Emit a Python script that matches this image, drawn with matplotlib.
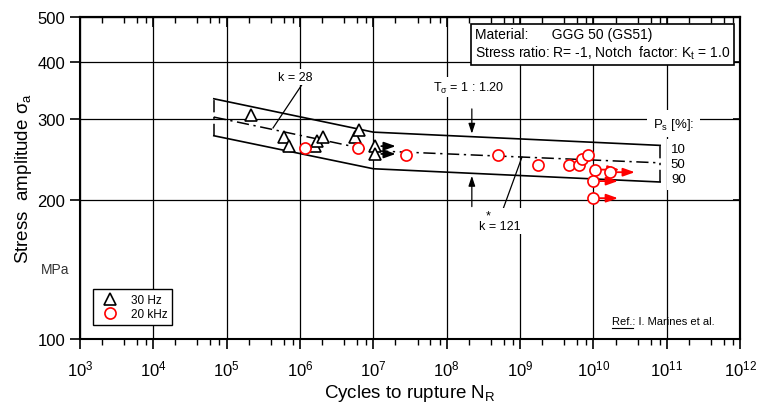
import matplotlib
matplotlib.use("Agg")
import matplotlib.pyplot as plt
import matplotlib.ticker as mticker
import numpy as np

plt.rcParams['font.family'] = ['Liberation Sans', 'DejaVu Sans']
plt.rcParams['mathtext.fontset'] = 'custom'
plt.rcParams['mathtext.rm'] = 'Liberation Sans'
plt.rcParams['mathtext.it'] = 'Liberation Sans:italic'

# scatter band (10 / 50 / 90 %)
band_n = [6.7e4, 1e7, 8.1e10]
band_10 = [332, 281, 263]
band_50 = [303, 256, 241]
band_90 = [276, 234, 219]

# 30 Hz tests
hz30_n = [2.15e5, 6.0e5, 7.1e5, 1.6e6, 1.7e6, 2.05e6, 5.6e6, 6.4e6]
hz30_s = [306, 274, 262, 262, 269, 274, 274, 284]
hz30_runout_n = [1.05e7, 1.05e7]
hz30_runout_s = [262, 252]

# 20 kHz tests
khz20_n = [1.17e6, 6.2e6, 2.8e7, 5.0e8, 1.76e9, 4.7e9, 6.4e9, 7.0e9, 8.5e9]
khz20_s = [259, 259, 251, 251, 238, 238, 238, 246, 251]
khz20_runout_n = [1.05e10, 1.7e10, 1.0e10, 1.0e10]
khz20_runout_s = [233, 230, 220, 202]

ps_labels = ['10', '50', '90']
x_decades = [1e3, 1e4, 1e5, 1e6, 1e7, 1e8, 1e9, 1e10, 1e11, 1e12]
y_ticks = [100, 200, 300, 400, 500]

fig = plt.figure(figsize=(7.6, 4.06), dpi=100)
ax = fig.add_axes([0.105, 0.163, 0.869, 0.793])
ax.set_xscale('log')
ax.set_yscale('log')
ax.set_xlim(1e3, 1e12)
ax.set_ylim(100, 500)

# grid
ax.grid(True, which='major', color='black', lw=0.9, zorder=0)
ax.set_axisbelow(True)

# band
ax.plot(band_n, band_10, color='black', lw=1.2, zorder=2)
ax.plot(band_n, band_90, color='black', lw=1.2, zorder=2)
ax.plot(band_n, band_50, color='black', lw=1.1, ls=(0, (8, 3, 1.5, 3)), zorder=2)
for i in [0, -1]:
    ax.plot([band_n[i], band_n[i]], [band_90[i], band_10[i]], color='black',
            lw=1.1, ls=(0, (8, 3, 1.5, 3)), zorder=2)

# runout arrows
for n, s in zip(hz30_runout_n, hz30_runout_s):
    ax.annotate('', xy=(n * 2.1, s), xytext=(n * 1.12, s),
                arrowprops=dict(arrowstyle='-|>,head_length=0.7,head_width=0.25',
                                color='black', lw=1.3), zorder=3)
for n, s in zip(khz20_runout_n, khz20_runout_s):
    ax.annotate('', xy=(n * 2.35, s), xytext=(n * 1.12, s),
                arrowprops=dict(arrowstyle='-|>,head_length=0.7,head_width=0.25',
                                color='red', lw=1.3), zorder=3)

ax.plot(hz30_n + hz30_runout_n, hz30_s + hz30_runout_s, ls='none', marker='^',
        ms=9, mfc='white', mec='black', mew=1.2, zorder=4, label='30 Hz')
ax.plot(khz20_n + khz20_runout_n, khz20_s + khz20_runout_s, ls='none', marker='o',
        ms=8, mfc='white', mec='red', mew=1.2, zorder=5, label='20 kHz')

white = dict(facecolor='white', edgecolor='none', pad=1.5)

# k = 28
ax.plot([1.06e6, 4.3e5], [356, 287], color='black', lw=0.9, zorder=3)
ax.text(8.5e5, 370, 'k = 28', ha='center', va='center', fontsize=9, bbox=white, zorder=6)

# k* = 121
ax.plot([5.7e8, 1.06e9], [189, 248], color='black', lw=0.9, zorder=3)
ax.text(5.3e8, 180, '  *\nk = 121', ha='center', va='center', multialignment='left',
        linespacing=0.75, fontsize=9, bbox=white, zorder=6)

# T_sigma
ax.text(2.0e8, 352, '$\\mathregular{T_\\sigma}$ = 1 : 1.20', ha='center', va='center',
        fontsize=9, bbox=white, zorder=6)
ax.annotate('', xy=(2.2e8, 275), xytext=(2.2e8, 320),
            arrowprops=dict(arrowstyle='-|>,head_length=0.6,head_width=0.2',
                            color='black', lw=0.9), zorder=3)
ax.annotate('', xy=(2.2e8, 229), xytext=(2.2e8, 191),
            arrowprops=dict(arrowstyle='-|>,head_length=0.6,head_width=0.2',
                            color='black', lw=0.9), zorder=3)

# P_s labels
ax.text(1.23e11, 293, '$\\mathregular{P_s}$ [%]:', ha='center', va='center',
        fontsize=9.5, bbox=dict(facecolor='white', edgecolor='none', pad=4), zorder=6)
for lab, s in zip(ps_labels, [258, 240, 222]):
    ax.text(1.43e11, s, lab, ha='center', va='center', fontsize=9.5,
            bbox=dict(facecolor='white', edgecolor='none', pad=3), zorder=6)

# info box
ax.text(0.598, 0.916,
        'Material:      GGG 50 (GS51)\nStress ratio: R= -1, Notch  factor: $\\mathregular{K_t}$ = 1.0',
        transform=ax.transAxes, ha='left', va='center', fontsize=10, linespacing=1.2,
        bbox=dict(facecolor='white', edgecolor='black', lw=1.2, boxstyle='square,pad=0.3'),
        zorder=8)

# reference
ax.text(0.806, 0.056, 'Ref.: I. Marines et al.', transform=ax.transAxes,
        ha='left', va='center', fontsize=8, zorder=6)
ax.plot([0.806, 0.838], [0.034, 0.034], transform=ax.transAxes, color='black', lw=0.8)

# legend
leg = ax.legend(loc='lower left', bbox_to_anchor=(0.02, 0.043), borderaxespad=0,
                fancybox=False, edgecolor='black', framealpha=1, fontsize=8.5,
                handletextpad=0.8, borderpad=0.4, labelspacing=0.2)
leg.get_frame().set_linewidth(1.0)

# ticks
minor_loc = mticker.LogLocator(base=10, subs=[2, 4, 6, 8], numticks=20)
ax.xaxis.set_major_locator(mticker.FixedLocator(x_decades))
ax.xaxis.set_major_formatter(mticker.LogFormatterSciNotation())
ax.xaxis.set_minor_locator(minor_loc)
ax.xaxis.set_minor_formatter(mticker.NullFormatter())
ax.set_yticks(y_ticks)
ax.set_yticklabels([str(v) for v in y_ticks])
ax.yaxis.set_minor_locator(mticker.NullLocator())
ax.tick_params(axis='both', which='major', direction='out', length=7, width=1.2,
               labelsize=12, colors='black')
ax.tick_params(axis='x', which='major', pad=7)
ax.tick_params(axis='x', which='minor', direction='out', length=4, width=1.0)

top = ax.secondary_xaxis('top')
top.xaxis.set_major_locator(mticker.FixedLocator(x_decades))
top.xaxis.set_minor_locator(mticker.LogLocator(base=10, subs=[2, 4, 6, 8], numticks=20))
top.tick_params(which='major', direction='in', length=7, width=1.2, labeltop=False)
top.tick_params(which='minor', direction='in', length=4, width=1.0)
top.xaxis.set_major_formatter(mticker.NullFormatter())
top.xaxis.set_minor_formatter(mticker.NullFormatter())
right = ax.secondary_yaxis('right')
right.set_yticks(y_ticks)
right.yaxis.set_minor_locator(mticker.NullLocator())
right.tick_params(which='major', direction='in', length=5, width=1.2, labelright=False)
for sp in ax.spines.values():
    sp.set_linewidth(1.5)
top.spines['top'].set_linewidth(1.5)
right.spines['right'].set_linewidth(1.5)

ax.set_xlabel('Cycles to rupture $\\mathregular{N_R}$', fontsize=13.5, labelpad=3)
ax.set_ylabel('Stress  amplitude $\\mathregular{\\sigma_a}$', fontsize=13.5)
ax.yaxis.set_label_coords(-0.070, 0.5)
fig.text(0.072, 1 - 270 / 406, 'MPa', ha='center', va='center', fontsize=10, color='#333333')

fig.savefig('out.png', dpi=100)
